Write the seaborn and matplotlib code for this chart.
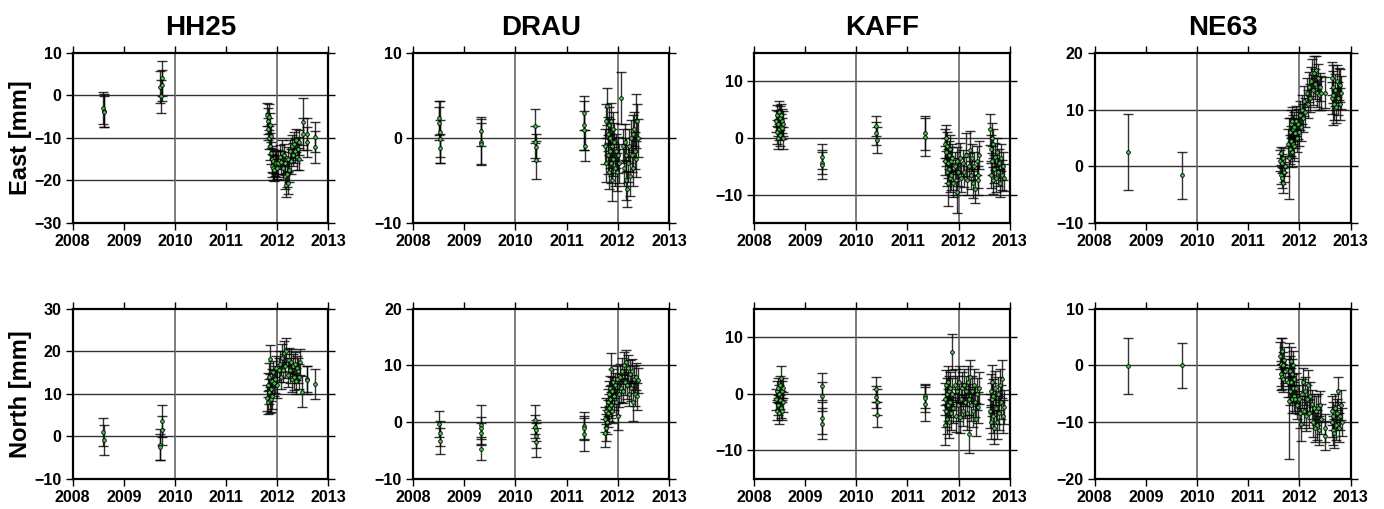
import matplotlib
matplotlib.use("Agg")
import numpy as np
import pandas as pd
import seaborn as sns
import matplotlib.pyplot as plt

stations = ["HH25", "DRAU", "KAFF", "NE63"]
components = ["East", "North"]
year_ticks = [2008, 2009, 2010, 2011, 2012, 2013]

# each entry: (decimal year, offset [mm], sigma [mm])
hh25_east = [
    (2008.60, -3.0, 3.8), (2008.61, -3.6, 3.9), (2008.62, -3.8, 3.7),
    (2009.70, 2.0, 3.8), (2009.72, -0.2, 3.9), (2009.74, 4.0, 4.1), (2009.75, 2.4, 3.6),
    (2011.80, -4.5, 2.8), (2011.81, -6.0, 3.0), (2011.82, -8.0, 2.6), (2011.83, -5.0, 3.1),
    (2011.84, -10.0, 2.7), (2011.85, -7.0, 2.9), (2011.86, -12.0, 3.2), (2011.87, -9.5, 2.8),
    (2011.88, -13.5, 2.6), (2011.89, -15.0, 3.0), (2011.90, -16.5, 2.7), (2011.91, -17.0, 2.9),
    (2011.92, -15.5, 2.8), (2011.93, -17.5, 2.6), (2011.95, -16.0, 3.0), (2011.97, -15.8, 2.8),
    (2011.99, -17.0, 2.7), (2012.02, -16.0, 3.1), (2012.05, -14.5, 2.9), (2012.07, -15.7, 2.7),
    (2012.09, -13.5, 3.0), (2012.11, -17.0, 2.8), (2012.13, -14.0, 2.6), (2012.15, -19.0, 2.9),
    (2012.16, -16.0, 2.7), (2012.18, -21.0, 2.8), (2012.19, -18.5, 3.0), (2012.20, -20.5, 2.7),
    (2012.21, -15.0, 2.9), (2012.23, -17.5, 2.8), (2012.25, -13.0, 2.6), (2012.26, -15.5, 3.0),
    (2012.28, -12.0, 2.8), (2012.30, -14.0, 2.7), (2012.32, -11.5, 2.9), (2012.34, -13.0, 2.8),
    (2012.36, -10.5, 2.7), (2012.38, -14.5, 3.0), (2012.40, -12.5, 2.8), (2012.42, -15.0, 2.6),
    (2012.43, -11.0, 2.9),
    (2012.50, -6.2, 5.5), (2012.51, -9.0, 3.8), (2012.59, -9.0, 3.8), (2012.59, -10.9, 3.5),
    (2012.73, -9.8, 3.6), (2012.73, -12.1, 3.7),
]
hh25_north = [
    (2008.60, 1.0, 3.3), (2008.61, -0.9, 3.5),
    (2009.70, -2.0, 3.7), (2009.71, -2.5, 3.0), (2009.74, 3.6, 3.7), (2009.75, 1.4, 3.4),
    (2011.80, 9.0, 3.0), (2011.81, 12.0, 2.8), (2011.82, 8.0, 2.7), (2011.83, 14.0, 3.1),
    (2011.84, 10.5, 2.9), (2011.85, 8.5, 3.0), (2011.86, 18.1, 3.4), (2011.87, 11.0, 2.8),
    (2011.88, 8.7, 3.0), (2011.89, 13.0, 2.9), (2011.90, 9.5, 3.1), (2011.92, 15.0, 2.8),
    (2011.94, 12.5, 3.0), (2011.96, 13.4, 3.2), (2011.98, 16.0, 2.9), (2012.00, 12.0, 3.0),
    (2012.03, 15.5, 2.8), (2012.06, 17.0, 3.0), (2012.08, 14.0, 2.9), (2012.10, 18.5, 3.1),
    (2012.12, 15.5, 2.8), (2012.14, 19.5, 3.0), (2012.16, 16.5, 2.9), (2012.18, 20.0, 3.2),
    (2012.20, 14.5, 3.0), (2012.22, 18.0, 2.8), (2012.24, 15.5, 3.0), (2012.26, 17.5, 2.9),
    (2012.28, 13.5, 3.0), (2012.30, 16.5, 2.8), (2012.32, 14.0, 3.1), (2012.34, 17.0, 2.9),
    (2012.36, 13.0, 3.0), (2012.38, 16.0, 2.8), (2012.40, 15.4, 3.0), (2012.42, 14.0, 2.9),
    (2012.44, 17.5, 3.0),
    (2012.49, 10.5, 3.7), (2012.58, 13.4, 3.0), (2012.59, 13.2, 3.2), (2012.73, 12.2, 3.5),
]
drau_east = [
    (2008.51, 2.3, 2.0), (2008.51, 1.7, 1.9), (2008.52, 0.7, 3.6), (2008.52, -0.1, 2.2),
    (2008.52, -1.2, 1.7),
    (2009.32, 0.8, 1.7), (2009.32, -0.5, 2.7), (2009.33, -0.7, 2.4),
    (2010.39, 1.4, 2.0), (2010.39, -0.5, 1.9), (2010.40, -1.1, 1.6), (2010.40, -2.6, 2.2),
    (2011.34, 2.9, 2.0), (2011.35, 1.5, 2.9), (2011.35, 0.9, 2.3), (2011.36, -0.9, 1.8),
    (2011.76, -1.0, 2.1), (2011.77, 2.0, 2.0), (2011.78, -3.0, 2.2), (2011.79, 3.7, 2.2),
    (2011.80, 0.5, 2.0), (2011.81, -2.0, 2.3), (2011.82, 1.5, 2.1), (2011.83, -4.0, 2.0),
    (2011.84, 0.0, 2.2), (2011.85, -1.5, 2.0), (2011.86, 2.0, 2.1), (2011.87, -3.0, 2.3),
    (2011.88, -1.0, 2.0), (2011.89, -5.0, 2.4), (2011.90, 1.0, 2.1), (2011.91, -2.5, 2.0),
    (2011.93, -0.5, 2.2), (2011.95, -3.5, 2.1), (2011.97, -1.5, 2.0), (2011.99, -4.0, 2.2),
    (2012.01, -2.0, 2.1), (2012.03, -3.0, 2.3), (2012.07, 4.7, 3.1), (2012.10, -1.0, 2.0),
    (2012.12, -3.5, 2.2), (2012.14, -0.5, 2.1), (2012.16, -5.0, 2.3), (2012.17, -2.0, 2.0),
    (2012.19, -6.0, 2.1), (2012.20, -3.0, 2.2), (2012.22, -1.0, 2.0), (2012.24, -4.5, 2.3),
    (2012.25, 0.0, 2.1), (2012.27, -2.0, 2.0), (2012.29, 0.5, 2.2), (2012.30, -3.5, 2.1),
    (2012.32, 1.0, 2.0), (2012.33, -1.5, 2.2), (2012.35, 2.0, 3.2), (2012.36, -2.5, 2.1),
    (2012.38, 2.0, 2.0), (2012.39, 0.0, 2.2),
]
drau_north = [
    (2008.51, -0.4, 2.3), (2008.52, -2.0, 2.2), (2008.52, -3.4, 2.3),
    (2009.32, -0.5, 3.5), (2009.32, -1.1, 1.9), (2009.33, -2.0, 1.8), (2009.33, -4.7, 2.0),
    (2010.39, 0.4, 2.6), (2010.39, -0.8, 2.1), (2010.40, -1.5, 1.9), (2010.40, -2.4, 2.2),
    (2010.40, -3.6, 2.6),
    (2011.34, -0.7, 2.4), (2011.35, -1.0, 2.0), (2011.35, -2.2, 2.9),
    (2011.75, -2.0, 2.5), (2011.76, 0.5, 2.2), (2011.77, -1.0, 2.4), (2011.78, 2.0, 2.3),
    (2011.79, 0.0, 2.2), (2011.80, 3.5, 2.4), (2011.81, 1.5, 2.3), (2011.82, 5.0, 2.2),
    (2011.83, 2.5, 2.4), (2011.84, 4.0, 2.3), (2011.85, 6.0, 2.2), (2011.86, 9.4, 2.8),
    (2011.87, 3.0, 2.3), (2011.88, 5.5, 2.4), (2011.89, 2.0, 2.2), (2011.90, 7.0, 2.3),
    (2011.92, 4.5, 2.4), (2011.94, 6.5, 2.2), (2011.96, 3.5, 2.3), (2011.98, 7.5, 2.4),
    (2012.00, 1.0, 2.4), (2012.02, 5.0, 2.3), (2012.04, 8.0, 2.2), (2012.06, 6.0, 2.4),
    (2012.08, 9.0, 2.3), (2012.10, 5.5, 2.2), (2012.12, 10.0, 2.4), (2012.14, 7.0, 2.3),
    (2012.16, 10.5, 2.2), (2012.18, 6.5, 2.4), (2012.20, 9.5, 2.3), (2012.22, 5.0, 2.2),
    (2012.24, 8.5, 2.4), (2012.26, 6.0, 2.3), (2012.28, 9.0, 2.2), (2012.30, 3.5, 3.3),
    (2012.32, 7.5, 2.3), (2012.34, 5.0, 2.2), (2012.36, 8.0, 2.4), (2012.38, 4.5, 2.3),
    (2012.40, 7.4, 2.2),
]
kaff_east = [
    (2008.43, 3.0, 2.0), (2008.44, 1.0, 2.1), (2008.45, 4.0, 1.9), (2008.46, 0.0, 2.0),
    (2008.47, 2.5, 2.2), (2008.48, 4.5, 2.0), (2008.49, 1.5, 1.9), (2008.50, 3.5, 2.1),
    (2008.51, 0.5, 2.0), (2008.52, 2.0, 2.2), (2008.53, 4.0, 2.0), (2008.54, 1.7, 1.9),
    (2008.55, 3.0, 2.1), (2008.56, 0.0, 2.0), (2008.57, 2.5, 2.2),
    (2009.32, -3.3, 2.2), (2009.32, -4.4, 2.0), (2009.33, -4.7, 2.5),
    (2010.39, 2.1, 1.8), (2010.39, 0.8, 2.0), (2010.40, -0.4, 2.3),
    (2011.34, 0.9, 3.0), (2011.34, 0.2, 3.3),
    (2011.73, -1.0, 2.5), (2011.74, -4.0, 2.6), (2011.75, 0.0, 2.3), (2011.76, -2.5, 2.5),
    (2011.77, -6.0, 2.4), (2011.78, -1.5, 2.6), (2011.79, -4.5, 2.5), (2011.80, -8.0, 4.0),
    (2011.81, -3.0, 2.5), (2011.82, -5.5, 2.4), (2011.83, -2.0, 2.6), (2011.84, -7.0, 2.5),
    (2011.85, -4.0, 2.4), (2011.86, -6.5, 2.6), (2011.88, -3.5, 2.5), (2011.90, -8.0, 2.4),
    (2011.92, -5.0, 2.6), (2011.94, -7.5, 2.5), (2011.96, -4.0, 2.4), (2011.97, -9.5, 3.7),
    (2011.99, -6.0, 2.5), (2012.02, -3.5, 2.6), (2012.05, -7.0, 2.5), (2012.08, -4.5, 2.4),
    (2012.11, -6.0, 2.6), (2012.14, -3.0, 3.8), (2012.17, -7.5, 2.5), (2012.20, -5.0, 2.4),
    (2012.23, -2.1, 3.3), (2012.25, -6.5, 2.5), (2012.27, -3.5, 2.4), (2012.29, -8.0, 2.6),
    (2012.31, -5.0, 2.5), (2012.33, -9.0, 2.4), (2012.35, -4.0, 2.6), (2012.37, -7.5, 2.5),
    (2012.38, -6.5, 2.4), (2012.40, -3.0, 2.5),
    (2012.62, 1.5, 2.8), (2012.63, -2.0, 2.5), (2012.64, -6.5, 2.4), (2012.65, 0.0, 2.6),
    (2012.66, -4.0, 2.5), (2012.67, -7.5, 2.4), (2012.68, -1.0, 2.6), (2012.70, -5.5, 2.5),
    (2012.71, -3.3, 2.4), (2012.73, -7.0, 2.6), (2012.75, -2.5, 2.5), (2012.77, -6.0, 2.4),
    (2012.79, -4.5, 2.6), (2012.81, -8.0, 2.5), (2012.83, -3.5, 2.4), (2012.85, -6.5, 2.6),
    (2012.87, -5.0, 2.5), (2012.89, -7.0, 2.4),
]
kaff_north = [
    (2008.43, -1.0, 1.8), (2008.44, 0.5, 1.7), (2008.45, -3.0, 1.6), (2008.46, 1.0, 1.8),
    (2008.47, -2.0, 1.7), (2008.48, 0.0, 1.6), (2008.49, -3.5, 1.8), (2008.50, 1.5, 1.7),
    (2008.51, -1.1, 1.6), (2008.52, 2.7, 2.2), (2008.53, -2.5, 1.8), (2008.54, 0.5, 1.7),
    (2008.55, -3.0, 1.6), (2008.56, -1.5, 1.8), (2008.57, 1.0, 1.7),
    (2009.32, 1.3, 2.4), (2009.32, -0.5, 2.5), (2009.33, -4.3, 2.8), (2009.33, -5.3, 2.7),
    (2010.39, 0.8, 2.2), (2010.39, -0.6, 2.0), (2010.40, -1.5, 2.3), (2010.40, -3.7, 2.2),
    (2011.34, -0.5, 2.1), (2011.34, -0.8, 2.5), (2011.35, -1.9, 3.0),
    (2011.73, -5.5, 3.5), (2011.74, -1.0, 2.8), (2011.75, 1.5, 2.7), (2011.76, -3.0, 2.9),
    (2011.77, 0.0, 2.8), (2011.78, -4.5, 2.7), (2011.79, 2.0, 2.9), (2011.80, -2.0, 2.8),
    (2011.81, 0.5, 2.7), (2011.82, -5.0, 2.9), (2011.83, 1.0, 2.8), (2011.84, -1.5, 2.7),
    (2011.85, -3.5, 2.9), (2011.87, 7.4, 3.2), (2011.88, 0.0, 2.8), (2011.90, -2.5, 2.7),
    (2011.92, 1.5, 2.9), (2011.94, -4.0, 2.8), (2011.96, 0.5, 2.7), (2011.98, -2.0, 2.9),
    (2012.00, 2.0, 2.8), (2012.02, -4.2, 2.7), (2012.04, -1.0, 2.9), (2012.06, 1.0, 2.8),
    (2012.08, -3.0, 2.7), (2012.10, 1.5, 2.9), (2012.12, -1.5, 2.8), (2012.14, 0.5, 2.7),
    (2012.16, -3.5, 2.9), (2012.18, 2.0, 2.8), (2012.20, -1.0, 2.7), (2012.21, -7.1, 3.3),
    (2012.22, 3.0, 2.9), (2012.24, -2.0, 2.8), (2012.26, 0.5, 2.7), (2012.28, -3.0, 2.9),
    (2012.30, 1.5, 2.8), (2012.32, -1.5, 2.7), (2012.34, -4.5, 2.9), (2012.36, 0.0, 2.8),
    (2012.38, -2.4, 2.7), (2012.40, 1.0, 2.9),
    (2012.62, -3.0, 3.0), (2012.63, 0.5, 2.9), (2012.64, -5.0, 3.0), (2012.65, -1.0, 2.9),
    (2012.66, 2.0, 3.0), (2012.67, -4.0, 2.9), (2012.68, -0.5, 3.0), (2012.70, -6.0, 2.9),
    (2012.71, 1.0, 3.0), (2012.73, -2.5, 2.9), (2012.75, -5.0, 3.0), (2012.77, 0.0, 2.9),
    (2012.79, -3.5, 3.0), (2012.81, 1.5, 2.9), (2012.83, -1.5, 3.0), (2012.85, 2.6, 3.3),
    (2012.87, -4.0, 2.9), (2012.89, -2.3, 3.0),
]
ne63_east = [
    (2008.65, 2.6, 6.7), (2009.71, -1.6, 4.2),
    (2011.63, 1.0, 1.8), (2011.64, -1.5, 1.7), (2011.65, 2.4, 1.0), (2011.66, -2.0, 1.8),
    (2011.67, 0.5, 1.7), (2011.68, -2.9, 1.9), (2011.69, 1.5, 1.8), (2011.70, -1.0, 1.7),
    (2011.71, 0.0, 1.8),
    (2011.78, 4.0, 2.6), (2011.80, 1.4, 7.1), (2011.81, 6.0, 2.5), (2011.82, 3.0, 2.6),
    (2011.83, 7.5, 2.5), (2011.84, 4.5, 2.6), (2011.85, 8.0, 2.5), (2011.86, 2.5, 2.6),
    (2011.87, 6.5, 2.5), (2011.88, 4.0, 2.6), (2011.89, 7.0, 2.5), (2011.90, 3.5, 2.6),
    (2011.92, 5.8, 2.5), (2011.94, 8.0, 2.6), (2011.96, 5.0, 2.5), (2011.98, 7.5, 2.6),
    (2012.00, 6.0, 2.5), (2012.02, 9.0, 2.6), (2012.04, 7.0, 2.5), (2012.06, 10.0, 2.6),
    (2012.08, 8.5, 2.5), (2012.10, 11.5, 2.6), (2012.12, 9.5, 2.5), (2012.14, 13.0, 2.6),
    (2012.16, 11.0, 2.5), (2012.18, 14.0, 2.6), (2012.20, 12.0, 2.5), (2012.22, 15.0, 2.6),
    (2012.24, 16.4, 2.5), (2012.26, 13.5, 2.6), (2012.28, 16.5, 3.0), (2012.30, 14.5, 2.6),
    (2012.32, 17.0, 2.5), (2012.34, 13.0, 2.6), (2012.36, 15.5, 2.5), (2012.38, 12.5, 2.6),
    (2012.40, 14.0, 2.5), (2012.42, 13.0, 3.0), (2012.50, 13.0, 2.8),
    (2012.63, 12.0, 2.8), (2012.64, 15.5, 2.9), (2012.65, 12.6, 5.3), (2012.66, 14.0, 2.8),
    (2012.67, 11.0, 2.9), (2012.69, 13.5, 2.8), (2012.71, 10.5, 2.9), (2012.73, 15.0, 2.8),
    (2012.75, 12.0, 2.9), (2012.77, 14.5, 2.8), (2012.79, 14.3, 2.9), (2012.80, 11.0, 2.8),
    (2012.82, 13.0, 2.9),
]
ne63_north = [
    (2008.65, -0.1, 4.9), (2009.71, 0.0, 4.0),
    (2011.63, 1.7, 2.4), (2011.64, -1.5, 2.2), (2011.65, 0.3, 4.6), (2011.66, 2.5, 2.3),
    (2011.67, -2.0, 2.2), (2011.68, 0.0, 2.3), (2011.69, -2.5, 2.2), (2011.70, 1.0, 2.3),
    (2011.71, -1.0, 2.2),
    (2011.78, -3.0, 2.6), (2011.80, -6.3, 10.2), (2011.81, -1.0, 2.6), (2011.82, -4.5, 2.5),
    (2011.83, 0.7, 2.5), (2011.84, -3.0, 2.6), (2011.85, -6.0, 2.5), (2011.86, -1.5, 2.6),
    (2011.87, -4.0, 2.5), (2011.88, 0.0, 2.6), (2011.89, -5.5, 2.5), (2011.90, -2.5, 2.6),
    (2011.92, -6.0, 2.5), (2011.94, -4.0, 2.6), (2011.96, -7.0, 2.5),
    (2012.00, -6.0, 2.6), (2012.02, -8.5, 2.5), (2012.03, -10.4, 2.9), (2012.05, -5.0, 2.6),
    (2012.07, -2.9, 2.5), (2012.09, -8.0, 2.6), (2012.11, -4.5, 2.5), (2012.13, -9.0, 2.6),
    (2012.15, -6.0, 2.5), (2012.17, -3.5, 2.6), (2012.19, -8.5, 2.5), (2012.21, -5.5, 2.6),
    (2012.24, -6.9, 2.5), (2012.26, -10.0, 2.6), (2012.28, -7.5, 2.5), (2012.30, -11.0, 2.6),
    (2012.32, -8.0, 2.5), (2012.34, -10.5, 2.6), (2012.36, -7.5, 2.5), (2012.38, -11.5, 2.6),
    (2012.41, -7.0, 2.5), (2012.43, -9.5, 2.6),
    (2012.50, -11.1, 2.5), (2012.51, -12.4, 2.6),
    (2012.63, -10.0, 2.6), (2012.64, -8.0, 2.5), (2012.65, -11.5, 2.6), (2012.66, -9.0, 2.5),
    (2012.68, -12.0, 2.6), (2012.70, -7.5, 2.5), (2012.72, -10.5, 2.6), (2012.74, -8.5, 2.5),
    (2012.76, -4.5, 2.5), (2012.77, -11.0, 2.6), (2012.79, -9.0, 2.5), (2012.81, -7.0, 2.6),
    (2012.83, -10.0, 2.5),
]

series = {
    ("HH25", "East"): hh25_east, ("HH25", "North"): hh25_north,
    ("DRAU", "East"): drau_east, ("DRAU", "North"): drau_north,
    ("KAFF", "East"): kaff_east, ("KAFF", "North"): kaff_north,
    ("NE63", "East"): ne63_east, ("NE63", "North"): ne63_north,
}
# y range and tick values per panel
y_ranges = {
    ("HH25", "East"): (-30, 10, [-30, -20, -10, 0, 10]),
    ("DRAU", "East"): (-10, 10, [-10, 0, 10]),
    ("KAFF", "East"): (-15, 15, [-10, 0, 10]),
    ("NE63", "East"): (-10, 20, [-10, 0, 10, 20]),
    ("HH25", "North"): (-10, 30, [-10, 0, 10, 20, 30]),
    ("DRAU", "North"): (-10, 20, [-10, 0, 10, 20]),
    ("KAFF", "North"): (-15, 15, [-10, 0, 10]),
    ("NE63", "North"): (-20, 10, [-20, -10, 0, 10]),
}

sns.set_theme(style="ticks")
plt.rcParams["font.family"] = ["Liberation Sans", "DejaVu Sans"]
plt.rcParams["font.weight"] = "bold"
plt.rcParams["text.color"] = "black"
plt.rcParams["axes.labelcolor"] = "black"
plt.rcParams["axes.titlecolor"] = "black"
plt.rcParams["axes.unicode_minus"] = True

fig = plt.figure(figsize=(13.84, 5.09), dpi=100)
lefts = [0.0525, 0.2985, 0.5448, 0.7910]
bottoms = [0.562, 0.0596]
w, h = 0.1848, 0.334

for r, comp in enumerate(components):
    for c, st in enumerate(stations):
        ax = fig.add_axes([lefts[c], bottoms[r], w, h])
        df = pd.DataFrame(series[(st, comp)], columns=["t", "v", "s"])
        lo, hi, yt = y_ranges[(st, comp)]

        for gy in yt:
            if lo < gy < hi:
                ax.axhline(gy, color="0.2", lw=1.0, zorder=0)
        for gx in year_ticks:
            if gx % 2 == 0 and 2008 < gx < 2013:
                ax.axvline(gx, color="0.4", lw=1.2, zorder=0)

        ax.errorbar(df["t"], df["v"], yerr=df["s"], fmt="none", ecolor="black",
                    elinewidth=1.0, capsize=3.3, capthick=1.0, alpha=0.8, zorder=2)
        sns.scatterplot(data=df, x="t", y="v", ax=ax, color="#4fc84f",
                        edgecolor="black", linewidth=0.6, s=7, zorder=3, legend=False)

        ax.set_xlim(2008, 2013)
        ax.set_ylim(lo, hi)
        ax.set_xticks(year_ticks)
        ax.set_yticks(yt)
        ax.set_xticklabels([str(y) for y in year_ticks])
        ax.set_yticklabels([str(y).replace("-", "\u2212") for y in yt])
        ax.tick_params(direction="out", length=5, width=1.0, labelsize=11.5, pad=3,
                       top=True, right=True, colors="black")
        for lab in ax.get_xticklabels() + ax.get_yticklabels():
            lab.set_fontweight("bold")
        ax.set_xlabel("")
        ax.set_ylabel("")
        for sp in ax.spines.values():
            sp.set_visible(True)
            sp.set_linewidth(1.6)
            sp.set_color("black")
        if r == 0:
            ax.set_title(st, fontsize=20, fontweight="bold", pad=13, color="black")
        if c == 0:
            ax.set_ylabel(comp + " [mm]", fontsize=17, fontweight="bold", labelpad=2,
                          color="black")

fig.savefig("out.png", dpi=100)
